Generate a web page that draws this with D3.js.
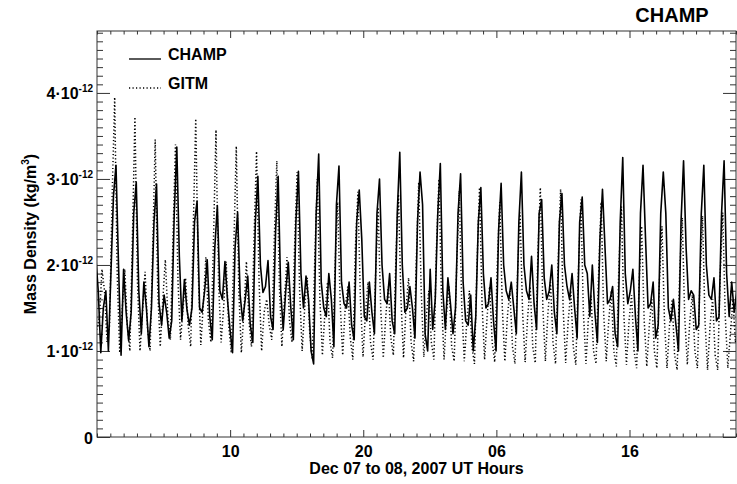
<!DOCTYPE html>
<html>
<head>
<meta charset="utf-8">
<script src="https://cdn.jsdelivr.net/npm/d3@7"></script>
<style>
  html, body { margin: 0; padding: 0; background: #fff; }
  svg text { font-family: "Liberation Sans", Arial, Helvetica, sans-serif; font-weight: bold; fill: #000; }
</style>
</head>
<body>
<svg id="chart" width="737" height="484"></svg>
<script>
// ---- data (mass density in units of 1e-12 kg/m^3) ----
const chartTitle = "CHAMP";
const xTitle = "Dec 07 to 08, 2007 UT Hours";
const yTitle = "Mass Density (kg/m";
const seriesNames = ["CHAMP", "GITM"];
const xTickHours = [10, 20, 30, 40];
const xTickLabels = ["10", "20", "06", "16"];
const yTickValues = [0, 1, 2, 3, 4];
const yTickLabels = ["0", "1\u00b710", "2\u00b710", "3\u00b710", "4\u00b710"];
const yTickExponents = ["", "-12", "-12", "-12", "-12"];

const champStartHour = -0.096, champStepHour = 0.19033;
const gitmStartHour = -0.196, gitmStepHour = 0.19033;

const champ = [
  2.1, 1.7, 0.98, 1.5, 1.7, 1.0, 1.9, 2.8,
  3.16, 2.0, 0.95, 1.95, 1.45, 1.12, 1.45, 2.6,
  2.96, 1.7, 1.2, 1.8, 1.5, 1.05, 1.5, 2.5,
  2.94, 1.55, 1.3, 1.65, 1.45, 1.15, 1.35, 2.6,
  3.37, 2.1, 1.35, 1.83, 1.48, 1.3, 1.5, 2.5,
  2.74, 1.5, 1.45, 1.7, 2.06, 1.4, 1.13, 2.2,
  2.69, 1.7, 1.6, 2.04, 1.6, 1.25, 0.98, 2.2,
  2.61, 1.65, 1.35, 1.6, 1.87, 1.3, 1.1, 2.5,
  3.03, 2.0, 1.68, 1.75, 2.05, 1.4, 1.25, 2.4,
  3.03, 1.7, 1.25, 1.7, 2.03, 1.5, 1.13, 2.5,
  3.09, 1.9, 1.5, 1.87, 1.6, 1.0, 0.85, 2.6,
  3.29, 1.8, 1.5, 1.4, 1.9, 1.6, 1.05, 2.7,
  3.15, 1.8, 1.55, 1.5, 1.8, 1.3, 1.13, 2.5,
  2.87, 2.3, 1.4, 1.35, 1.8, 1.45, 1.2, 2.6,
  3.0, 2.0, 1.6, 1.55, 1.9, 1.35, 1.2, 2.6,
  3.31, 2.0, 1.45, 1.5, 1.75, 1.5, 1.15, 2.5,
  3.08, 2.7, 1.2, 1.0, 1.95, 1.25, 1.6, 2.6,
  3.18, 1.7, 1.25, 1.85, 1.55, 1.2, 1.5, 2.6,
  3.06, 1.8, 1.35, 1.3, 1.65, 1.0, 1.4, 2.5,
  2.9, 1.9, 1.5, 1.55, 1.85, 1.35, 1.0, 2.4,
  2.95, 2.0, 1.7, 1.6, 1.8, 1.5, 1.2, 2.5,
  3.08, 2.0, 1.7, 1.6, 2.1, 1.55, 1.25, 2.6,
  2.76, 1.85, 1.6, 1.7, 2.0, 1.45, 1.2, 2.5,
  2.83, 2.0, 1.75, 1.6, 1.9, 1.5, 1.15, 2.5,
  2.79, 2.0, 1.9, 1.4, 2.0, 1.45, 1.1, 2.3,
  2.88, 2.2, 1.55, 1.6, 1.75, 1.2, 1.05, 2.5,
  3.25, 1.9, 1.55, 1.7, 1.95, 1.4, 1.0, 2.6,
  3.16, 2.3, 1.5, 1.55, 1.8, 1.15, 1.3, 2.6,
  3.08, 2.6, 1.5, 1.35, 1.6, 1.3, 1.0, 2.5,
  3.21, 2.2, 1.6, 1.7, 1.65, 1.25, 1.3, 2.6,
  3.16, 2.0, 1.65, 1.6, 1.85, 1.35, 1.4, 2.6,
  3.21, 1.9, 1.4, 1.8, 1.45, 1.7
];

const gitm = [
  1.5, 1.25, 1.4, 1.95, 1.7, 1.1, 1.3, 2.8,
  3.95, 1.9, 0.98, 1.5, 1.95, 1.3, 1.0, 2.3,
  3.72, 1.8, 1.0, 1.45, 1.92, 1.25, 1.0, 2.2,
  3.46, 1.7, 1.05, 1.6, 2.06, 1.4, 1.13, 2.3,
  3.40, 1.8, 1.13, 1.5, 1.85, 1.3, 1.05, 2.4,
  3.70, 1.9, 1.07, 1.55, 2.09, 1.35, 1.1, 2.3,
  3.57, 1.8, 1.1, 1.5, 2.04, 1.3, 0.98, 2.2,
  3.38, 1.7, 0.98, 1.45, 2.04, 1.35, 1.05, 2.3,
  3.32, 1.8, 1.0, 1.45, 1.6, 1.3, 1.13, 2.3,
  3.21, 1.75, 1.05, 1.6, 2.09, 1.35, 1.1, 2.2,
  3.08, 1.7, 1.0, 1.5, 1.85, 1.2, 0.9, 2.1,
  3.0, 1.6, 0.95, 1.45, 1.8, 1.1, 0.92, 2.0,
  2.73, 1.55, 0.95, 1.5, 1.75, 1.15, 0.9, 2.2,
  2.85, 1.6, 0.93, 1.45, 1.8, 1.1, 0.9, 1.9,
  2.67, 1.5, 0.92, 1.4, 1.75, 1.15, 0.95, 2.1,
  2.82, 1.6, 0.92, 1.5, 1.85, 1.1, 0.88, 2.0,
  2.96, 1.7, 0.93, 1.4, 1.7, 1.1, 0.9, 2.2,
  3.0, 1.6, 0.9, 1.45, 1.75, 1.05, 0.88, 2.0,
  2.86, 1.5, 0.88, 1.35, 1.7, 1.05, 0.85, 2.0,
  2.9, 1.55, 0.9, 1.4, 1.75, 1.1, 0.87, 2.0,
  2.73, 1.5, 0.88, 1.4, 1.7, 1.05, 0.85, 1.9,
  2.61, 1.45, 0.87, 1.4, 1.75, 1.05, 0.86, 2.1,
  2.9, 1.5, 0.88, 1.45, 1.8, 1.1, 0.85, 2.0,
  2.88, 1.5, 0.86, 1.35, 1.7, 1.05, 0.84, 1.9,
  2.76, 1.45, 0.85, 1.4, 1.65, 1.0, 0.85, 1.9,
  2.73, 1.45, 0.88, 1.35, 1.7, 1.0, 0.82, 2.0,
  2.68, 1.4, 0.84, 1.35, 1.65, 1.0, 0.8, 1.8,
  2.45, 1.35, 0.82, 1.3, 1.6, 1.0, 0.8, 1.8,
  2.45, 1.35, 0.8, 1.3, 1.6, 0.95, 0.78, 1.9,
  2.55, 1.4, 0.84, 1.35, 1.65, 1.0, 0.8, 1.8,
  2.57, 1.35, 0.78, 1.3, 1.6, 0.95, 0.78, 1.9,
  2.61, 1.4, 0.8, 1.2, 1.6, 1.1, 1.3
];

// ---- layout ----
const svg = d3.select("#chart");
const L = 97, R = 736, T = 31, B = 437;
const x = d3.scaleLinear().domain([0, 48]).range([L, R]);
const y = d3.scaleLinear().domain([0, 4.72]).range([B, T]);
const axisColor = "#333";

svg.append("defs").append("clipPath").attr("id", "plotclip")
  .append("rect").attr("x", L).attr("y", T).attr("width", R - L).attr("height", B - T);

const minorX = d3.range(0, 49, 1).filter(h => !xTickHours.includes(h));
const minorY = d3.range(0, 48, 1).map(i => i / 10).filter(v => !yTickValues.includes(v));

function styleAxis(g) {
  g.select(".domain").remove();
  g.selectAll("line").attr("stroke", axisColor).attr("stroke-width", 1);
}

// bottom
svg.append("g").attr("transform", `translate(0,${B})`)
  .call(d3.axisBottom(x).tickValues(minorX).tickSize(-3.5).tickFormat(""))
  .call(styleAxis);
svg.append("g").attr("transform", `translate(0,${B})`)
  .call(d3.axisBottom(x).tickValues(xTickHours).tickSize(-7).tickPadding(9)
    .tickFormat((d, i) => xTickLabels[i]))
  .call(styleAxis)
  .call(g => g.selectAll("text").attr("font-size", 16).attr("fill", "#000"));
// top
svg.append("g").attr("transform", `translate(0,${T})`)
  .call(d3.axisTop(x).tickValues(minorX).tickSize(-3.5).tickFormat(""))
  .call(styleAxis);
svg.append("g").attr("transform", `translate(0,${T})`)
  .call(d3.axisTop(x).tickValues(xTickHours).tickSize(-7).tickFormat(""))
  .call(styleAxis);
// left
svg.append("g").attr("transform", `translate(${L},0)`)
  .call(d3.axisLeft(y).tickValues(minorY).tickSize(-6).tickFormat(""))
  .call(styleAxis);
const yAx = svg.append("g").attr("transform", `translate(${L},0)`)
  .call(d3.axisLeft(y).tickValues(yTickValues).tickSize(-13).tickPadding(4).tickFormat(""))
  .call(styleAxis);
yAx.selectAll(".tick").each(function(d, i) {
  const t = d3.select(this).append("text")
    .attr("x", -4).attr("y", 6).attr("text-anchor", "end").attr("font-size", 16);
  t.append("tspan").text(yTickLabels[i]);
  if (yTickExponents[i]) {
    t.append("tspan").attr("font-size", 10).attr("dy", -7).text(yTickExponents[i]);
  }
});
// right
svg.append("g").attr("transform", `translate(${R},0)`)
  .call(d3.axisRight(y).tickValues(minorY).tickSize(-6).tickFormat(""))
  .call(styleAxis);
svg.append("g").attr("transform", `translate(${R},0)`)
  .call(d3.axisRight(y).tickValues(yTickValues).tickSize(-13).tickFormat(""))
  .call(styleAxis);

// frame
svg.append("rect").attr("x", L).attr("y", T).attr("width", R - L).attr("height", B - T)
  .attr("fill", "none").attr("stroke", axisColor).attr("stroke-width", 1);

// lines
const plot = svg.append("g").attr("clip-path", "url(#plotclip)");
const champLine = d3.line().x((d, i) => x(champStartHour + i * champStepHour)).y(d => y(d));
const gitmLine = d3.line().x((d, i) => x(gitmStartHour + i * gitmStepHour)).y(d => y(d));

plot.append("path").datum(gitm).attr("d", gitmLine)
  .attr("fill", "none").attr("stroke", "#000").attr("stroke-width", 1.5)
  .attr("stroke-dasharray", "1.2,2.3");
plot.append("path").datum(champ).attr("d", champLine)
  .attr("fill", "none").attr("stroke", "#000").attr("stroke-width", 1.6)
  .attr("stroke-linejoin", "round");

// legend
svg.append("line").attr("x1", 129).attr("x2", 161).attr("y1", 59).attr("y2", 59)
  .attr("stroke", "#000").attr("stroke-width", 1.3);
svg.append("text").attr("x", 168).attr("y", 60).attr("font-size", 16).text(seriesNames[0]);
svg.append("line").attr("x1", 129).attr("x2", 161).attr("y1", 88).attr("y2", 88)
  .attr("stroke", "#000").attr("stroke-width", 1.3).attr("stroke-dasharray", "1.2,2.3");
svg.append("text").attr("x", 168).attr("y", 89).attr("font-size", 16).text(seriesNames[1]);

// titles
svg.append("text").attr("x", 672).attr("y", 22).attr("text-anchor", "middle")
  .attr("font-size", 20).text(chartTitle);
svg.append("text").attr("x", (L + R) / 2).attr("y", 474).attr("text-anchor", "middle")
  .attr("font-size", 16).text(xTitle);
const yt = svg.append("text").attr("transform", `translate(36,${(T + B) / 2}) rotate(-90)`)
  .attr("text-anchor", "middle").attr("font-size", 16);
yt.append("tspan").text(yTitle);
yt.append("tspan").attr("font-size", 10).attr("dy", -7).text("3");
yt.append("tspan").attr("dy", 7).text(")");
</script>
</body>
</html>
